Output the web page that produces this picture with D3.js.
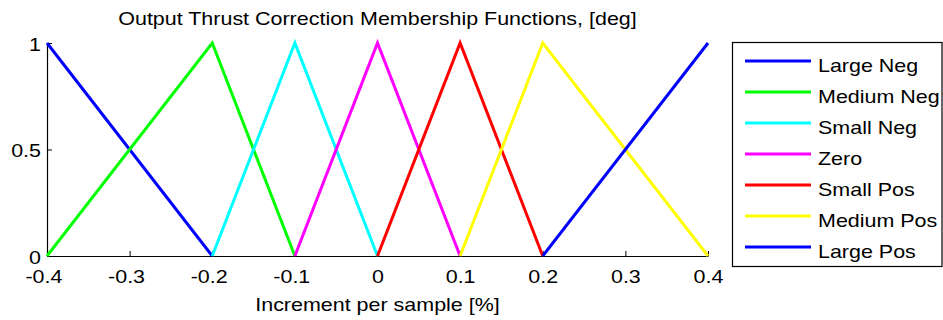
<!DOCTYPE html>
<html>
<head>
<meta charset="utf-8">
<script src="https://cdn.jsdelivr.net/npm/d3@7/dist/d3.min.js"></script>
<style>
  html, body { margin: 0; padding: 0; background: #fff; }
  svg { display: block; }
  text { font-family: "Liberation Sans", Arial, sans-serif; fill: #000; }
</style>
</head>
<body>
<svg id="chart" width="943" height="320"></svg>
<script>
// Membership function breakpoints: [x, membership]
const seriesNames = ["Large Neg", "Medium Neg", "Small Neg", "Zero", "Small Pos", "Medium Pos", "Large Pos"];
const seriesColors = ["#0000ff", "#00ff00", "#00ffff", "#ff00ff", "#ff0000", "#ffff00", "#0000ff"];
const largeNeg  = [[-0.4, 1], [-0.2, 0]];
const mediumNeg = [[-0.4, 0], [-0.2, 1], [-0.1, 0]];
const smallNeg  = [[-0.2, 0], [-0.1, 1], [0.0, 0]];
const zero      = [[-0.1, 0], [0.0, 1], [0.1, 0]];
const smallPos  = [[0.0, 0], [0.1, 1], [0.2, 0]];
const mediumPos = [[0.1, 0], [0.2, 1], [0.4, 0]];
const largePos  = [[0.2, 0], [0.4, 1]];
const seriesPoints = [largeNeg, mediumNeg, smallNeg, zero, smallPos, mediumPos, largePos];

const xTicks = [-0.4, -0.3, -0.2, -0.1, 0, 0.1, 0.2, 0.3, 0.4];
const xTickLabels = ["-0.4", "-0.3", "-0.2", "-0.1", "0", "0.1", "0.2", "0.3", "0.4"];
const yTicks = [0, 0.5, 1];
const yTickLabels = ["0", "0.5", "1"];

const titleText = "Output Thrust Correction Membership Functions, [deg]";
const xLabelText = "Increment per sample [%]";

const FONT_SIZE = 19;
const STRETCH = 1.13;   // slightly wide glyphs
const MINUS_HALF = 0.333 * FONT_SIZE * STRETCH / 2;

const svg = d3.select("#chart");
const plotLeft = 47, plotRight = 708, plotTop = 43, plotBottom = 256;

const x = d3.scaleLinear().domain([-0.4, 0.4]).range([plotLeft, plotRight]);
const y = d3.scaleLinear().domain([0, 1]).range([plotBottom, plotTop]);

// Axes: inward ticks, no box
const xAxis = d3.axisBottom(x).tickValues(xTicks).tickSizeInner(-5).tickSizeOuter(0)
  .tickFormat((d, i) => xTickLabels[i]);
const gx = svg.append("g").attr("transform", `translate(0,${plotBottom})`).call(xAxis);
gx.select(".domain").attr("stroke", "#000").attr("stroke-width", 1.2);
gx.selectAll(".tick line").attr("stroke", "#000");
gx.selectAll(".tick text")
  .attr("font-size", FONT_SIZE).attr("font-family", "Liberation Sans, Arial, sans-serif").attr("fill", "#000")
  .attr("y", 0).attr("dy", null)
  .attr("transform", (d, i) => `translate(${xTickLabels[i].startsWith("-") ? -MINUS_HALF : 0},27) scale(${STRETCH},1)`);

const yAxis = d3.axisLeft(y).tickValues(yTicks).tickSizeInner(-5).tickSizeOuter(0)
  .tickFormat((d, i) => yTickLabels[i]);
const gy = svg.append("g").attr("transform", `translate(${plotLeft},0)`).call(yAxis);
gy.select(".domain").attr("stroke", "#000").attr("stroke-width", 1.2);
gy.selectAll(".tick line").attr("stroke", "#000");
gy.selectAll(".tick text")
  .attr("font-size", FONT_SIZE).attr("font-family", "Liberation Sans, Arial, sans-serif").attr("fill", "#000")
  .attr("x", 0).attr("dy", null)
  .attr("transform", `translate(-6,7) scale(${STRETCH},1)`);

// Membership curves
const line = d3.line().x(d => x(d[0])).y(d => y(d[1]));
seriesPoints.forEach((pts, i) => {
  svg.append("path")
    .attr("d", line(pts))
    .attr("fill", "none")
    .attr("stroke", seriesColors[i])
    .attr("stroke-width", 3)
    .attr("stroke-linejoin", "miter");
});

function stretchedText(parent, tx, ty, str, anchor) {
  return parent.append("text")
    .attr("transform", `translate(${tx},${ty}) scale(${STRETCH},1)`)
    .attr("text-anchor", anchor)
    .attr("font-size", FONT_SIZE)
    .text(str);
}

// Title and axis label
stretchedText(svg, (plotLeft + plotRight) / 2, 25, titleText, "middle");
stretchedText(svg, (plotLeft + plotRight) / 2, 311, xLabelText, "middle");

// Legend
const legend = svg.append("g");
legend.append("rect").attr("x", 732.5).attr("y", 42.5).attr("width", 209.5).attr("height", 224)
  .attr("fill", "#fff").attr("stroke", "#000").attr("stroke-width", 1.2);
seriesNames.forEach((name, i) => {
  const yy = 61 + i * 31;
  legend.append("line").attr("x1", 745).attr("x2", 811).attr("y1", yy).attr("y2", yy)
    .attr("stroke", seriesColors[i]).attr("stroke-width", 3);
  stretchedText(legend, 818, yy + 10.5, name, "start");
});
</script>
</body>
</html>
